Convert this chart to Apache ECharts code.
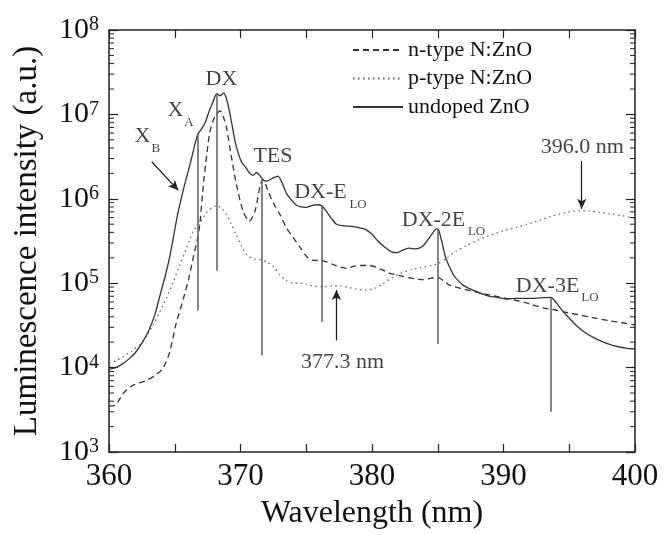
<!DOCTYPE html>
<html><head><meta charset="utf-8">
<script src="https://cdn.jsdelivr.net/npm/echarts@6/dist/echarts.min.js"></script>
<style>html,body{margin:0;padding:0;background:#fff}#c{width:665px;height:535px}</style>
</head><body><div id="c"></div>
<script>
// ---------- data ----------
const undopedX = [360.0,360.5,361.0,361.5,362.0,362.5,363.0,363.5,363.9,364.3,364.6,364.9,365.2,365.55,365.9,366.2,366.5,366.75,367.0,367.3,367.6,367.9,368.2,368.45,368.7,368.9,369.1,369.35,369.6,369.9,370.1,370.4,370.7,370.95,371.2,371.5,371.75,372.0,372.4,372.85,373.2,373.5,373.8,374.2,374.6,375.0,375.4,375.8,376.15,376.5,376.9,377.3,377.8,378.4,379.0,379.5,380.0,380.5,381.0,381.5,381.9,382.3,382.8,383.3,383.8,384.2,384.6,384.9,385.05,385.3,385.6,385.9,386.2,386.6,387.0,387.5,388.0,388.8,389.5,390.2,391.0,392.0,392.8,393.6,394.0,394.4,394.9,395.5,396.2,397.0,397.8,398.6,399.3,400.0];
const undopedY = [9.5e3,1.0e4,1.1e4,1.26e4,1.5e4,1.95e4,2.7e4,4.3e4,7.4e4,1.26e5,2.0e5,3.5e5,6.3e5,1.1e6,1.8e6,2.7e6,4.2e6,5.8e6,6.6e6,7.9e6,1.07e7,1.4e7,1.76e7,1.66e7,1.8e7,1.6e7,1.2e7,7.6e6,4.7e6,3.2e6,2.7e6,2.35e6,2.0e6,1.9e6,2.05e6,1.86e6,1.66e6,1.62e6,1.74e6,1.86e6,1.5e6,1.15e6,1.0e6,8.5e5,8.0e5,7.9e5,8.3e5,8.5e5,8.3e5,7.2e5,5.9e5,5.0e5,4.8e5,4.7e5,4.55e5,4.35e5,3.8e5,3.1e5,2.65e5,2.35e5,2.3e5,2.45e5,2.6e5,2.55e5,2.7e5,3.2e5,3.9e5,4.4e5,4.35e5,3.15e5,2.0e5,1.55e5,1.25e5,1.05e5,9.3e4,8.5e4,7.9e4,7.1e4,6.8e4,6.5e4,6.6e4,6.6e4,6.7e4,6.8e4,5.9e4,4.9e4,4.0e4,3.2e4,2.6e4,2.2e4,1.95e4,1.78e4,1.7e4,1.66e4];

const nTypeX = [360.0,360.5,361.1,361.85,362.9,363.6,364.1,364.6,365.1,365.65,366.1,366.4,366.7,366.9,367.2,367.45,367.65,367.9,368.15,368.45,368.7,368.95,369.3,369.7,370.2,370.67,371.1,371.5,371.7,372.1,372.5,373.0,373.5,374.0,374.5,375.0,375.5,376.05,376.6,377.06,377.6,378.08,378.6,379.1,379.85,380.6,381.3,382.1,383.0,383.9,384.5,385.0,385.5,385.9,387.0,388.0,389.2,390.5,391.8,393.0,394.0,394.8,395.8,396.8,398.0,399.0,400.0];
const nTypeY = [3.5e3,3.6e3,5.0e3,6.2e3,7.1e3,8.3e3,9.8e3,1.5e4,3.3e4,6.5e4,1.2e5,2.0e5,3.2e5,4.9e5,1.6e6,3.5e6,6.0e6,8.3e6,1.0e7,1.1e7,9.3e6,6.8e6,3.2e6,1.45e6,7.1e5,5.4e5,7.1e5,1.45e6,1.7e6,1.23e6,8.9e5,6.5e5,4.5e5,3.5e5,2.7e5,2.1e5,1.86e5,1.86e5,1.78e5,1.66e5,1.55e5,1.5e5,1.58e5,1.62e5,1.62e5,1.48e5,1.32e5,1.23e5,1.15e5,1.1e5,1.15e5,1.17e5,1.05e5,9.5e4,8.5e4,7.8e4,7.1e4,6.5e4,5.8e4,5.1e4,4.8e4,4.5e4,4.2e4,3.9e4,3.6e4,3.4e4,3.2e4];

const pTypeX = [360.0,360.5,361.1,361.8,362.4,362.9,363.4,363.9,364.4,364.9,365.4,365.9,366.4,366.9,367.4,367.8,368.2,368.6,368.95,369.3,369.7,370.1,370.5,371.0,371.5,372.0,372.5,373.0,373.5,374.0,374.5,375.0,375.5,376.3,377.0,377.6,378.2,378.8,379.5,380.2,380.8,381.5,382.1,383.0,383.9,385.0,385.7,386.4,387.2,388.0,389.0,390.0,391.0,391.8,392.8,393.8,394.8,395.8,396.5,397.3,398.2,399.0,400.0];
const pTypeY = [1.12e4,1.2e4,1.35e4,1.6e4,1.9e4,2.45e4,3.3e4,4.7e4,6.8e4,1.05e5,1.66e5,2.6e5,4.1e5,5.1e5,6.8e5,7.8e5,8.3e5,7.6e5,6.5e5,5.0e5,3.7e5,2.7e5,2.15e5,1.95e5,1.9e5,1.78e5,1.58e5,1.26e5,1.07e5,1.0e5,1.0e5,9.8e4,9.3e4,9.1e4,9.3e4,9.3e4,8.9e4,8.5e4,8.3e4,8.7e4,9.8e4,1.15e5,1.29e5,1.45e5,1.55e5,1.7e5,2.0e5,2.4e5,2.8e5,3.2e5,3.7e5,4.2e5,4.6e5,5.0e5,5.6e5,6.3e5,6.9e5,7.2e5,7.2e5,6.9e5,6.6e5,6.3e5,5.9e5];

const seriesNames = ['n-type N:ZnO', 'p-type N:ZnO', 'undoped ZnO'];

// peak marker lines
const markerX = [366.75, 368.2, 371.65, 376.15, 385.0, 393.6];
const markerTop = [5.8e6, 1.76e7, 1.7e6, 8.3e5, 4.4e5, 6.8e4];
const markerBottom = [4.7e4, 1.4e5, 1.4e4, 3.5e4, 1.9e4, 3.0e3];

// arrows [x1, y1, x2, y2] (tail -> head)
const arrowXB = [363.25, 2.75e6, 365.27, 1.26e6];
const arrow3773 = [377.3, 2.1e4, 377.3, 8.3e4];
const arrow3960 = [395.95, 2.8e6, 395.95, 7.6e5];

// annotation texts
const labelTexts = ['DX', 'X', 'A', 'X', 'B', 'TES', 'DX-E', 'LO', 'DX-2E', 'LO', 'DX-3E', 'LO', '396.0 nm', '377.3 nm'];
const labelX = [368.55, 365.06, 366.08, 362.55, 363.57, 372.47, 376.08, 378.94, 384.68, 387.95, 393.35, 396.58, 396.0, 377.76];
const labelY = [2.6e7, 1.135e7, 7.95e6, 5.55e6, 3.96e6, 3.18e6, 1.2e6, 8.6e5, 5.65e5, 4.14e5, 9.25e4, 6.68e4, 4.12e6, 1.17e4];
const labelIsSub = [false, false, true, false, true, false, false, true, false, true, false, true, false, false];

const xMin = 360, xMax = 400, yMin = 1e3, yMax = 1e8;

// minor tick positions of the log axis (2..9 x 10^n)
const minorTicks = [];
for (let e = 3; e < 8; e++) for (let k = 2; k <= 9; k++) minorTicks.push(k * Math.pow(10, e));

// ---------- chart ----------
const FONT = '"Liberation Serif","Times New Roman",Times,serif';
const zip = (xs, ys) => xs.map((x, i) => [x, ys[i]]);

const chart = echarts.init(document.getElementById('c'), null, {renderer: 'canvas'});

const axisLineStyle = {color: '#222', width: 1.5};
const xAxisBase = {
  type: 'value', min: xMin, max: xMax, interval: 5,
  axisLine: {show: true, lineStyle: axisLineStyle},
  axisTick: {show: true, inside: true, length: 8, lineStyle: {color: '#222', width: 1.2}},
  splitLine: {show: false}
};
const yAxisBase = {
  type: 'log', logBase: 10, min: yMin, max: yMax,
  axisLine: {show: true, lineStyle: axisLineStyle},
  axisTick: {show: true, inside: true, length: 9, lineStyle: {color: '#222', width: 1.2}},
  splitLine: {show: false}, minorTick: {show: false}
};

const markerLineData = markerX.map((x, i) => [{coord: [x, markerTop[i]]}, {coord: [x, markerBottom[i]]}]);
const arrowData = [arrowXB, arrow3773, arrow3960].map(a => [{coord: [a[0], a[1]]}, {coord: [a[2], a[3]]}]);

const labelData = labelTexts.map((t, i) => ({
  value: [labelX[i], labelY[i]],
  label: {
    show: true, position: 'inside', formatter: t, color: '#111', fontFamily: FONT,
    fontSize: labelIsSub[i] ? 13 : 22
  }
}));

const option = {
  animation: false,
  backgroundColor: '#fff',
  textStyle: {fontFamily: FONT},
  grid: {left: 109, right: 30, top: 30, bottom: 79, containLabel: false},
  legend: {
    data: seriesNames, orient: 'vertical', left: 352, top: 39, padding: 0,
    icon: 'inherit',
    itemWidth: 50, itemHeight: 14, itemGap: 6.5,
    itemStyle: {opacity: 0},
    textStyle: {fontFamily: FONT, fontSize: 22, color: '#111', lineHeight: 22},
    selectedMode: false
  },
  xAxis: [
    Object.assign({}, xAxisBase, {
      position: 'bottom',
      name: 'Wavelength (nm)', nameLocation: 'middle', nameGap: 46,
      nameTextStyle: {fontFamily: FONT, fontSize: 32, color: '#111'},
      axisLabel: {show: true, margin: 9, fontFamily: FONT, fontSize: 31, color: '#111',
        formatter: v => (v % 10 === 0 ? String(v) : '')}
    }),
    Object.assign({}, xAxisBase, {position: 'top', axisLabel: {show: false}})
  ],
  yAxis: [
    Object.assign({}, yAxisBase, {
      position: 'left',
      name: 'Luminescence intensity (a.u.)', nameLocation: 'middle', nameGap: 65,
      nameTextStyle: {fontFamily: FONT, fontSize: 33, color: '#111'},
      axisLabel: {
        show: true, margin: 10, color: '#111',
        formatter: v => '{b|10}{s|' + Math.round(Math.log10(v)) + '}',
        rich: {
          b: {fontFamily: FONT, fontSize: 30, lineHeight: 30, color: '#111'},
          s: {fontFamily: FONT, fontSize: 20, lineHeight: 14, verticalAlign: 'top', color: '#111'}
        }
      }
    }),
    Object.assign({}, yAxisBase, {position: 'right', axisLabel: {show: false}})
  ],
  series: [
    {
      name: seriesNames[0], type: 'line', xAxisIndex: 0, yAxisIndex: 0,
      data: zip(nTypeX, nTypeY), showSymbol: false, symbol: 'none', smooth: 0.25,
      lineStyle: {color: '#333', width: 1.3, type: [6, 4]}, itemStyle: {color: '#333'}, z: 3
    },
    {
      name: seriesNames[1], type: 'line', xAxisIndex: 0, yAxisIndex: 0,
      data: zip(pTypeX, pTypeY), showSymbol: false, symbol: 'none', smooth: 0.25,
      lineStyle: {color: '#666', width: 1.3, type: [1.5, 3.5]}, itemStyle: {color: '#666'}, z: 3
    },
    {
      name: seriesNames[2], type: 'line', xAxisIndex: 0, yAxisIndex: 0,
      data: zip(undopedX, undopedY), showSymbol: false, symbol: 'none', smooth: 0.25,
      lineStyle: {color: '#333', width: 1.3, type: 'solid'}, itemStyle: {color: '#333'}, z: 4,
      markLine: {
        silent: true, symbol: ['none', 'none'], label: {show: false},
        lineStyle: {color: '#666', width: 1.6, type: 'solid'},
        data: markerLineData
      }
    },
    {
      name: 'arrows', type: 'line', xAxisIndex: 0, yAxisIndex: 0, data: [],
      markLine: {
        silent: true, symbol: ['none', 'arrow'], symbolSize: [7, 10], label: {show: false},
        lineStyle: {color: '#222', width: 1.3, type: 'solid'},
        data: arrowData
      }
    },
    {
      name: 'labels', type: 'scatter', xAxisIndex: 0, yAxisIndex: 0,
      symbolSize: 0, silent: true, data: labelData, z: 6
    },
    {
      name: 'minorTicks', type: 'custom', xAxisIndex: 0, yAxisIndex: 0, silent: true, clip: false, z: 7,
      data: minorTicks.map(v => [xMin, v]),
      encode: {x: 0, y: 1},
      renderItem: function (params, api) {
        const v = api.value(1);
        const pl = api.coord([xMin, v]);
        const pr = api.coord([xMax, v]);
        return {
          type: 'group', children: [
            {type: 'line', shape: {x1: pl[0], y1: pl[1], x2: pl[0] + 5, y2: pl[1]}, style: {stroke: '#222', lineWidth: 1}},
            {type: 'line', shape: {x1: pr[0], y1: pr[1], x2: pr[0] - 5, y2: pr[1]}, style: {stroke: '#222', lineWidth: 1}}
          ]
        };
      }
    }
  ]
};
chart.setOption(option);
</script></body></html>
